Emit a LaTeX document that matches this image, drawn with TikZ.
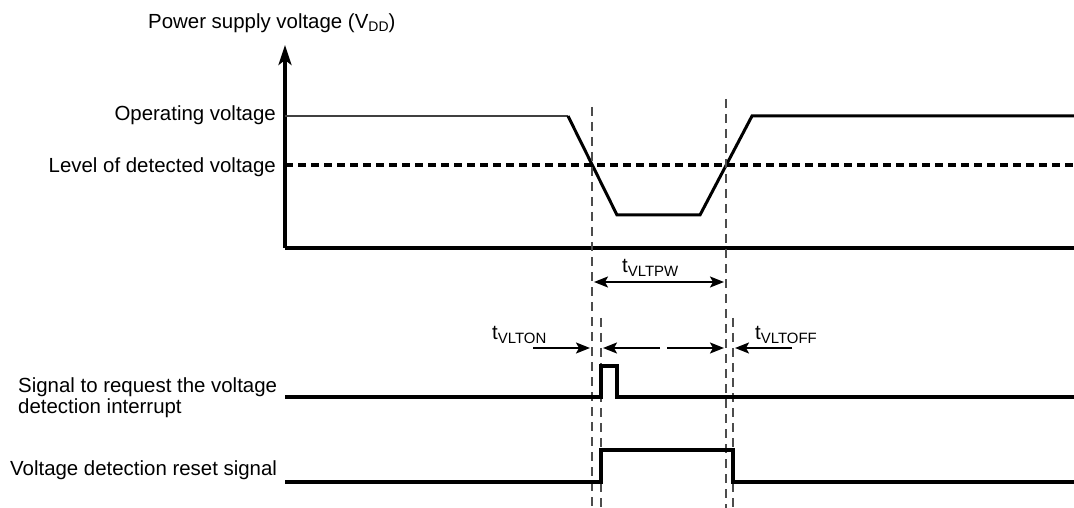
\documentclass[tikz,border=0pt]{standalone}
\usepackage{fontspec}
\setmainfont{Liberation Sans}
\usetikzlibrary{arrows.meta}
\newcommand\tsubx[1]{t\raisebox{-4bp}{\fontsize{15}{15}\selectfont #1}}
\begin{document}
\begin{tikzpicture}[x=1bp,y=-1bp,
  lbl/.style={inner sep=0pt, font=\fontsize{20.5}{22}\selectfont},
  sig/.style={line width=3.6bp, line join=miter},
  curve/.style={line width=3bp, line join=miter},
  guide/.style={black!70, line width=1.4bp, dash pattern=on 9bp off 6bp},
  dim/.style={line width=2bp, -{Stealth[length=14bp,width=11bp,inset=3bp]}},
  dimb/.style={line width=2bp, {Stealth[length=14bp,width=11bp,inset=3bp]}-{Stealth[length=14bp,width=11bp,inset=3bp]}},
]
\useasboundingbox (0,0) rectangle (1074,508);

% labels
\node[lbl, anchor=base west] (title) at (148,29) {Power supply voltage (V\raisebox{-3bp}{\fontsize{14}{14}\selectfont DD})};
\node[lbl, anchor=base east] (opv) at (276,121) {Operating voltage};
\node[lbl, anchor=base east] (lvl) at (276,173) {Level of detected voltage};
\node[lbl, anchor=base west, align=left] (sreq) at (18,413) {Signal to request the voltage\\[-1bp]detection interrupt};
\node[lbl, anchor=base west] (srst) at (10,475) {Voltage detection reset signal};
\node[lbl, anchor=base west] (ton) at (492,340) {\tsubx{VLTON}};
\node[lbl, anchor=base west] (tpw) at (622,273) {\tsubx{VLTPW}};
\node[lbl, anchor=base west] (toff) at (755,340) {\tsubx{VLTOFF}};

% axes
\coordinate (o) at (285,248);
\coordinate (ytop) at (285,45);
\coordinate (xend) at (1074,248);
\draw[line width=3.6bp, -{Stealth[length=20bp,width=13bp,inset=5bp]}] (o) -- (ytop);
\draw[line width=3.6bp] (o) -- (xend);

% detection level
\coordinate (l0) at (285,165);
\coordinate (l1) at (1074,165);
\draw[line width=3.2bp, dash pattern=on 8bp off 5bp] (l0) -- (l1);

% supply voltage curve
\coordinate (v0) at (285,116);
\coordinate (v1) at (568,116);
\coordinate (v2) at (617,215);
\coordinate (v3) at (700,215);
\coordinate (v4) at (752,116);
\coordinate (v5) at (1074,116);
\draw[line width=2.2bp, black!75] (v0) -- (v1);
\draw[curve] (v1) -- (v2) -- (v3) -- (v4) -- (v5);

% guide lines
\coordinate (g1t) at (592,107); \coordinate (g1b) at (592,508);
\coordinate (g2t) at (726,99);  \coordinate (g2b) at (726,508);
\coordinate (g3t) at (601,318); \coordinate (g3b) at (601,508);
\coordinate (g4t) at (733,318); \coordinate (g4b) at (733,508);
\draw[guide] (g1t) -- (g1b);
\draw[guide] (g2t) -- (g2b);
\draw[guide] (g3t) -- (g3b);
\draw[guide] (g4t) -- (g4b);

% dimension arrows
\coordinate (pw0) at (594,282); \coordinate (pw1) at (724,282);
\draw[dimb] (pw0) -- (pw1);
\coordinate (on0) at (533,348); \coordinate (on1) at (590,348);
\draw[dim] (on0) -- (on1);
\coordinate (of0) at (792,348); \coordinate (of1) at (735,348);
\draw[dim] (of0) -- (of1);
\coordinate (m0) at (660,348); \coordinate (m1) at (603,348);
\coordinate (m2) at (667,348); \coordinate (m3) at (724,348);
\draw[dim] (m0) -- (m1);
\draw[dim] (m2) -- (m3);

% interrupt request signal
\coordinate (a0) at (285,397); \coordinate (a1) at (601,397);
\coordinate (a2) at (601,366); \coordinate (a3) at (617,366);
\coordinate (a4) at (617,397); \coordinate (a5) at (1074,397);
\draw[sig] (a0) -- (a1) -- (a2) -- (a3) -- (a4) -- (a5);

% reset signal
\coordinate (b0) at (285,482); \coordinate (b1) at (601,482);
\coordinate (b2) at (601,450); \coordinate (b3) at (733,450);
\coordinate (b4) at (733,482); \coordinate (b5) at (1074,482);
\draw[sig] (b0) -- (b1) -- (b2) -- (b3) -- (b4) -- (b5);
\end{tikzpicture}
\end{document}
